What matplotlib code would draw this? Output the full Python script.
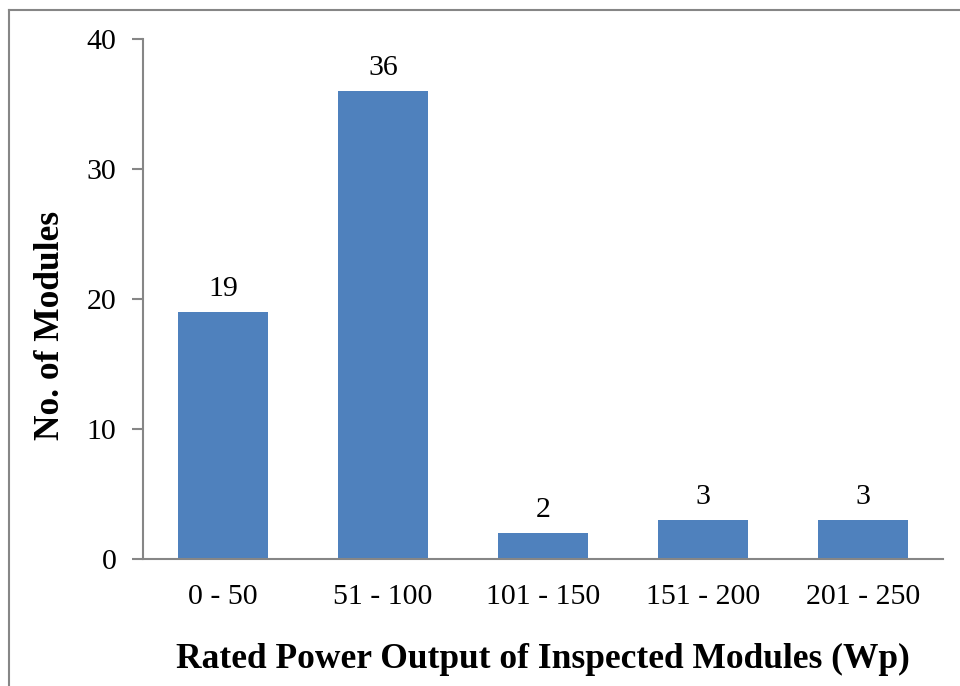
import matplotlib.pyplot as plt
from matplotlib.lines import Line2D

# data
categories = ['0 - 50', '51 - 100', '101 - 150', '151 - 200', '201 - 250']
modules = [19, 36, 2, 3, 3]
y_ticks = [0, 10, 20, 30, 40]

plt.rcParams['font.family'] = ['Liberation Serif', 'DejaVu Serif']

fig = plt.figure(figsize=(9.6, 6.86), dpi=100)
ax = fig.add_axes([143 / 960, 1 - 559 / 686, 800 / 960, 520 / 686])

x = range(len(categories))
bars = ax.bar(x, modules, width=0.5625, color='#4F81BD', zorder=2)

# value labels above bars
for rect, v in zip(bars, modules):
    ax.annotate(str(v), (rect.get_x() + rect.get_width() / 2, v),
                xytext=(0, 7), textcoords='offset points',
                ha='center', va='bottom', fontsize=21.5)

ax.set_xlim(-0.5, len(categories) - 0.5)
ax.set_ylim(0, 40)
ax.set_yticks(y_ticks)
ax.set_xticks(list(x))
ax.set_xticklabels(categories)

ax.tick_params(axis='y', direction='out', length=8, width=1.5,
               color='#868686', labelsize=21.5, pad=11)
ax.tick_params(axis='x', length=0, labelsize=21.5, pad=18)

for side in ['top', 'right']:
    ax.spines[side].set_visible(False)
for side in ['left', 'bottom']:
    ax.spines[side].set_color('#868686')
    ax.spines[side].set_linewidth(1.5)

ax.set_xlabel('Rated Power Output of Inspected Modules (Wp)',
              fontsize=25.5, fontweight='bold', labelpad=24)
ax.set_ylabel('No. of Modules', fontsize=25.5, fontweight='bold')
ax.yaxis.set_label_coords(-0.095, 0.45)

# outer frame (top and left edges only visible)
fx = 8.5 / 960
fy = 1 - 9.5 / 686
fig.add_artist(Line2D([fx, 1], [fy, fy], color='#868686', lw=1.5,
                      transform=fig.transFigure))
fig.add_artist(Line2D([fx, fx], [0, fy], color='#868686', lw=1.5,
                      transform=fig.transFigure))

fig.savefig('out.png', dpi=100)
